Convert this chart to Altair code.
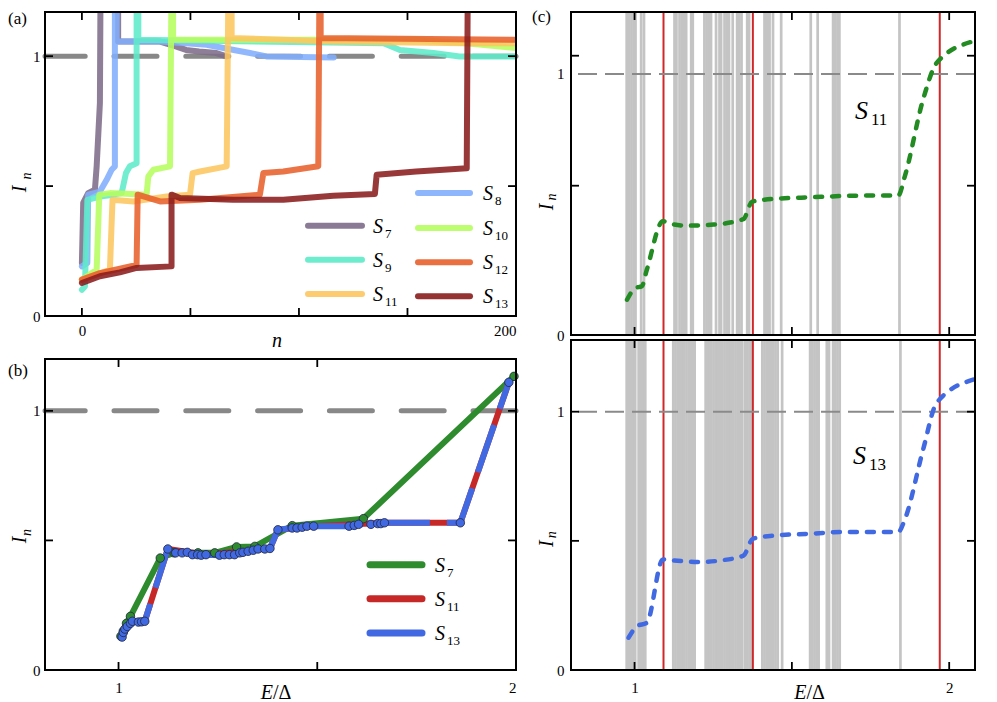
import altair as alt
import pandas as pd

FONT = "Liberation Serif"

# ---------------- panel (a): I_n versus n ----------------
S7_n = [0, 0.6, 2.9, 6.0, 6.8, 8.3, 8.8, 16.7, 16.7, 36, 43.6, 48, 54, 62, 66.7]
S7_I = [0.204, 0.435, 0.473, 0.486, 0.576, 0.82, 1.6, 1.6, 1.056, 1.056, 1.037, 1.024, 1.018, 1.012, 0.999]
S8_n = [0, 2.5, 2.9, 8.3, 11.4, 13.7, 15.2, 15.2, 16.0, 16.0, 36, 48, 57.5, 70, 77.4, 85, 116]
S8_I = [0.191, 0.204, 0.467, 0.479, 0.524, 0.563, 0.576, 1.6, 1.6, 1.056, 1.056, 1.05, 1.044, 1.024, 1.012, 0.999, 0.995]
S9_n = [0, 1.4, 2.5, 8.3, 14.4, 18.3, 20.3, 22.1, 25.2, 25.2, 26, 26, 139, 146.5, 162, 174, 200]
S9_I = [0.101, 0.114, 0.447, 0.46, 0.467, 0.473, 0.55, 0.576, 0.588, 1.6, 1.6, 1.063, 1.05, 1.024, 1.012, 0.999, 0.999]
S10_n = [0, 6.8, 8.0, 12.9, 29.8, 30.6, 32.9, 40.6, 41.6, 42, 42, 85, 154, 177, 200]
S10_I = [0.14, 0.178, 0.467, 0.473, 0.467, 0.537, 0.563, 0.576, 1.6, 1.6, 1.063, 1.063, 1.063, 1.05, 1.031]
S11_n = [0, 12.9, 14.1, 23.7, 39, 49.8, 51, 54.4, 66.7, 67.9, 69, 69, 116, 177, 200]
S11_I = [0.14, 0.178, 0.447, 0.441, 0.46, 0.467, 0.55, 0.556, 0.576, 1.6, 1.6, 1.07, 1.056, 1.05, 1.05]
S12_n = [0, 8.3, 25.2, 25.7, 36, 54.4, 82, 83.6, 92.8, 108.9, 109.7, 110, 110, 200]
S12_I = [0.14, 0.165, 0.197, 0.467, 0.441, 0.447, 0.467, 0.55, 0.556, 0.576, 1.6, 1.6, 1.07, 1.063]
S13_n = [0, 8.3, 17.5, 25.2, 41.3, 41.3, 45.2, 69.7, 92.8, 115.8, 135, 135.8, 154, 177.3, 178]
S13_I = [0.127, 0.153, 0.168, 0.185, 0.191, 0.467, 0.454, 0.447, 0.447, 0.463, 0.47, 0.544, 0.556, 0.569, 1.6]

A_names = ["7", "8", "9", "10", "11", "12", "13"]
A_colors = ["#7e6c8a", "#82aefc", "#5eebc9", "#b6fd60", "#fdc660", "#e8612c", "#8a1c1c"]
A_series = [(S7_n, S7_I), (S8_n, S8_I), (S9_n, S9_I), (S10_n, S10_I),
            (S11_n, S11_I), (S12_n, S12_I), (S13_n, S13_I)]
A_leg_col = [0, 1, 0, 1, 0, 1, 1]
A_leg_row = [1, 0, 2, 1, 3, 2, 3]
A_xticks = [0, 50, 100, 150, 200]
A_yticks = [0.5, 1]
A_xlabels = [0, 200]
A_ylabels = [0, 1]

# ---------------- panel (b): I_n versus E/Delta ----------------
B_S7_E = [1.006, 1.012, 1.020, 1.030, 1.105, 1.140, 1.200, 1.242, 1.297, 1.343, 1.437, 1.616, 1.995]
B_S7_I = [0.130, 0.150, 0.180, 0.207, 0.432, 0.452, 0.452, 0.452, 0.475, 0.477, 0.557, 0.584, 1.133]
B_S11_E = [1.009, 1.022, 1.035, 1.066, 1.124, 1.220, 1.381, 1.401, 1.491, 1.669, 1.860, 1.982]
B_S11_I = [0.127, 0.168, 0.188, 0.188, 0.467, 0.445, 0.469, 0.541, 0.555, 0.568, 0.568, 1.110]
B_S13_E = [1.009, 1.012, 1.016, 1.022, 1.030, 1.035, 1.050, 1.058, 1.066, 1.124, 1.144, 1.160,
           1.173, 1.186, 1.199, 1.208, 1.220, 1.254, 1.266, 1.279, 1.292, 1.305, 1.313, 1.326,
           1.339, 1.351, 1.368, 1.381, 1.401, 1.437, 1.449, 1.462, 1.474, 1.491, 1.580, 1.593,
           1.604, 1.635, 1.652, 1.660, 1.669, 1.860, 1.982]
B_S13_I = [0.127, 0.145, 0.158, 0.168, 0.180, 0.188, 0.185, 0.186, 0.188, 0.467, 0.452, 0.452,
           0.454, 0.445, 0.445, 0.443, 0.445, 0.443, 0.445, 0.445, 0.445, 0.452, 0.454, 0.458,
           0.462, 0.467, 0.467, 0.469, 0.541, 0.548, 0.548, 0.551, 0.555, 0.555, 0.555, 0.558,
           0.562, 0.562, 0.565, 0.565, 0.568, 0.568, 1.110]
B_names = ["7", "11", "13"]
B_colors = ["#2e8b2e", "#c62828", "#4169e1"]
B_xticks = [1, 1.5, 2]
B_yticks = [0.5, 1]
B_xlabels = [1, 2]
B_ylabels = [0, 1]

# ---------------- panel (c): spectra and smoothed I_n ----------------
C_S11_E = [0.976, 1.002, 1.023, 1.039, 1.090, 1.113, 1.166, 1.251, 1.346, 1.373, 1.410,
           1.568, 1.727, 1.838, 1.859, 1.917, 1.960, 2.076]
C_S11_I = [0.135, 0.180, 0.187, 0.250, 0.436, 0.427, 0.419, 0.423, 0.444, 0.510, 0.518,
           0.528, 0.534, 0.534, 0.608, 0.902, 1.042, 1.125]
C_S13_E = [0.981, 1.008, 1.039, 1.090, 1.124, 1.209, 1.272, 1.346, 1.376, 1.431, 1.568,
           1.653, 1.838, 1.859, 1.917, 1.960, 2.076]
C_S13_I = [0.125, 0.170, 0.183, 0.428, 0.424, 0.418, 0.424, 0.443, 0.508, 0.519, 0.528,
           0.534, 0.534, 0.583, 0.853, 1.034, 1.124]
C_S11_levels = [0.975, 0.982, 0.990, 0.997, 1.003, 1.021, 1.030, 1.127, 1.133, 1.143, 1.150,
                1.157, 1.164, 1.180, 1.185, 1.222, 1.229, 1.236, 1.243, 1.259, 1.270, 1.275,
                1.286, 1.293, 1.300, 1.312, 1.326, 1.333, 1.340, 1.358, 1.364, 1.413, 1.418,
                1.425, 1.429, 1.440, 1.466, 1.560, 1.582, 1.631, 1.638, 1.645, 1.651, 1.842]
C_S13_levels = [0.975, 0.982, 0.989, 0.996, 1.002, 1.013, 1.020, 1.027, 1.034, 1.123, 1.130,
                1.137, 1.144, 1.151, 1.158, 1.165, 1.172, 1.179, 1.186, 1.191, 1.226, 1.233,
                1.240, 1.244, 1.251, 1.258, 1.265, 1.272, 1.279, 1.286, 1.293, 1.300, 1.307,
                1.314, 1.321, 1.328, 1.335, 1.342, 1.351, 1.358, 1.365, 1.371, 1.406, 1.413,
                1.420, 1.427, 1.434, 1.441, 1.448, 1.455, 1.469, 1.558, 1.565, 1.572, 1.579,
                1.585, 1.611, 1.618, 1.631, 1.638, 1.645, 1.652, 1.845]
C_red = [1.092, 1.376, 1.970]
C_xticks = [1, 1.5, 2]
C1_yticks = [0.572, 1.07]
C2_yticks = [0.5, 1]
C_xlabels = [1, 2]
C_ylabels = [0, 1]

ONE = pd.DataFrame({"k": [0]})


def txt(s, x, y, size, italic=False, align="left", angle=0, color="black"):
    kw = dict(text=s, font=FONT, fontSize=size, align=align, baseline="middle", color=color)
    if italic:
        kw["fontStyle"] = "italic"
    if angle:
        kw["angle"] = angle
    return alt.Chart(ONE).mark_text(**kw).encode(x=alt.value(x), y=alt.value(y))


def frame(W, H):
    return alt.Chart(ONE).mark_rect(filled=False, stroke="black", strokeWidth=2).encode(
        x=alt.value(0), x2=alt.value(W), y=alt.value(0), y2=alt.value(H))


def ticks(xv, yv, XS, YS, AX, AY, W, H, L=8):
    dx = pd.DataFrame({"v": xv})
    dy = pd.DataFrame({"v": yv})
    st = dict(color="black", strokeWidth=1.8)
    X = alt.X("v:Q", scale=XS, axis=AX)
    Y = alt.Y("v:Q", scale=YS, axis=AY)
    return [
        alt.Chart(dx).mark_rule(**st).encode(x=X, y=alt.value(H), y2=alt.value(H - L)),
        alt.Chart(dx).mark_rule(**st).encode(x=X, y=alt.value(0), y2=alt.value(L)),
        alt.Chart(dy).mark_rule(**st).encode(y=Y, x=alt.value(0), x2=alt.value(L)),
        alt.Chart(dy).mark_rule(**st).encode(y=Y, x=alt.value(W), x2=alt.value(W - L)),
    ]


def ylab(xI, yI, xn, yn, size=20):
    return [txt("I", xI, yI, size, italic=True, align="center", angle=270),
            txt("n", xn, yn, 14, italic=True, align="center", angle=270)]


def eld(cx, y):
    return [txt("E", cx - 3, y, 20, italic=True, align="right"),
            txt("/Δ", cx - 3, y, 20, align="left")]


def sym(num, color, x1, x2, y, tx, width=6, opacity=1.0):
    return [
        alt.Chart(ONE).mark_rule(color=color, strokeWidth=width, strokeCap="round",
                                 opacity=opacity).encode(
            x=alt.value(x1), x2=alt.value(x2), y=alt.value(y)),
        txt("S", tx, y + 1, 20, italic=True),
        txt(num, tx + 12, y + 8, 13),
    ]


def dashed_one(YS, AY, width, dash, color="#888888", cap="round"):
    return alt.Chart(pd.DataFrame({"v": [1]})).mark_rule(
        color=color, strokeWidth=width, strokeDash=dash, strokeCap=cap).encode(
        y=alt.Y("v:Q", scale=YS, axis=AY))


def axis(vals, pad, flush=False):
    kw = dict(values=vals, title=None, labelPadding=pad, labelOverlap=False, format=".0f")
    if flush:
        kw["labelFlush"] = True
    return alt.Axis(**kw)


# ---------- panel (a) ----------
WA, HA = 471, 304
XA = alt.Scale(domain=[-17, 200], nice=False, zero=False)
YA = alt.Scale(domain=[0, 1.17], nice=False, zero=False)
AXA = axis(A_xlabels, 7, True)
AYA = axis(A_ylabels, 5)

la = [dashed_one(YA, AYA, 5, [43, 28.8])]
for (xs, ys), col in zip(A_series, A_colors):
    df = pd.DataFrame({"x": xs, "y": ys, "i": list(range(len(xs)))})
    la.append(alt.Chart(df).mark_line(color=col, strokeWidth=6, opacity=0.88, strokeCap="round",
                                      strokeJoin="round", clip=True).encode(
        x=alt.X("x:Q", scale=XA, axis=AXA), y=alt.Y("y:Q", scale=YA, axis=AYA), order="i:Q"))
la += ticks(A_xticks, A_yticks, XA, YA, AXA, AYA, WA, HA)
la.append(frame(WA, HA))
col_rows = {0: [None, 213.7, 247.7, 282], 1: [181, 216, 250.3, 284.3]}
col_x = {0: (263, 317, 328), 1: (373, 425, 438)}
for nm, col, c, r in zip(A_names, A_colors, A_leg_col, A_leg_row):
    x1, x2, tx = col_x[c]
    la += sym(nm, col, x1, x2, col_rows[c][r], tx, opacity=0.9)
la.append(txt("(a)", -37, 7, 17))
la += ylab(-25, 177, -18, 164)
la.append(txt("n", 232, HA + 25, 20, italic=True, align="center"))
panel_a = alt.layer(*la).properties(width=WA, height=HA)

# ---------- panel (b) ----------
WB, HB = 471, 311
XB = alt.Scale(domain=[0.815, 2.0], nice=False, zero=False)
YB = alt.Scale(domain=[0, 1.2], nice=False, zero=False)
AXB = axis(B_xlabels, 10, True)
AYB = axis(B_ylabels, 5)


def bline(E, I, color, dash=None):
    df = pd.DataFrame({"x": E, "y": I, "i": list(range(len(E)))})
    kw = dict(color=color, strokeWidth=6, strokeJoin="round")
    if dash:
        kw["strokeDash"] = dash
    return alt.Chart(df).mark_line(**kw).encode(
        x=alt.X("x:Q", scale=XB, axis=AXB), y=alt.Y("y:Q", scale=YB, axis=AYB), order="i:Q")


def bpts(E, I, color):
    df = pd.DataFrame({"x": E, "y": I})
    return alt.Chart(df).mark_circle(size=72, color=color, opacity=1, stroke="#1f2440",
                                     strokeWidth=0.8).encode(
        x=alt.X("x:Q", scale=XB, axis=AXB), y=alt.Y("y:Q", scale=YB, axis=AYB))


lb = [dashed_one(YB, AYB, 5, [43, 28.8]),
      bline(B_S7_E, B_S7_I, B_colors[0]),
      bline(B_S11_E, B_S11_I, B_colors[1]),
      bline(B_S13_E, B_S13_I, B_colors[2], dash=[50, 17]),
      bpts(B_S7_E, B_S7_I, B_colors[0]),
      bpts(B_S13_E, B_S13_I, B_colors[2])]
lb += ticks(B_xticks, B_yticks, XB, YB, AXB, AYB, WB, HB)
lb.append(frame(WB, HB))
for nm, col, yy in zip(B_names, B_colors, [205.7, 239.7, 274]):
    lb += sym(nm, col, 325, 377, yy, 390, width=7)
lb.append(txt("(b)", -37, 11.5, 17))
lb += ylab(-25, 181, -18, 173.5)
lb += eld(231, HB + 23)
panel_b = alt.layer(*lb).properties(width=WB, height=HB)

# ---------- panel (c) ----------
WC = 404
XC = alt.Scale(domain=[0.798, 2.082], nice=False, zero=False)


def cpanel(H, ymax, levels, E, I, color, yt, sub, sx, sy, show_x, extra):
    YS = alt.Scale(domain=[0, ymax], nice=False, zero=False)
    AX = axis(C_xlabels, 10) if show_x else None
    AY = axis(C_ylabels, 7)
    X = alt.X("v:Q", scale=XC, axis=AX)
    L = [alt.Chart(pd.DataFrame({"v": levels})).mark_rule(color="#c4c4c4", strokeWidth=2.7).encode(x=X),
         alt.Chart(pd.DataFrame({"v": C_red})).mark_rule(color="#d0282a", strokeWidth=2).encode(x=X),
         dashed_one(YS, AY, 2, [19, 8], color="#8a8a8a", cap="butt")]
    df = pd.DataFrame({"x": E, "y": I, "i": list(range(len(E)))})
    L.append(alt.Chart(df).mark_line(color=color, strokeWidth=4.5, strokeDash=[7, 10],
                                     strokeCap="round", interpolate="monotone", clip=True).encode(
        x=alt.X("x:Q", scale=XC, axis=AX), y=alt.Y("y:Q", scale=YS, axis=AY), order="i:Q"))
    L += ticks(C_xticks, yt, XC, YS, AX, AY, WC, H)
    L.append(frame(WC, H))
    L.append(txt("S", sx, sy, 26, italic=True))
    L.append(txt(sub, sx + 16, sy + 9, 17))
    L += extra
    return alt.layer(*L).properties(width=WC, height=H)


HC1, HC2 = 323, 330
panel_c1 = cpanel(HC1, 1.2375, C_S11_levels, C_S11_E, C_S11_I, "#228b22", C1_yticks, "11",
                  284, 99, False, [txt("(c)", -39, 5, 17)] + ylab(-24, 195, -19, 185))
panel_c2 = cpanel(HC2, 1.2776, C_S13_levels, C_S13_E, C_S13_I, "#4169e1", C2_yticks, "13",
                  282, 115.7, True, ylab(-24, 203.7, -19, 194.7) + eld(238.5, HC2 + 23))

left = alt.vconcat(panel_a, panel_b, spacing=43, bounds="flush")
right = alt.vconcat(panel_c1, panel_c2, spacing=5, bounds="flush")
chart = alt.hconcat(left, right, spacing=12).properties(padding=0).configure_view(
    strokeWidth=0).configure_axis(grid=False, ticks=False, domain=False, labelFont=FONT,
                                  labelFontSize=15, labelColor="black")

chart.save("out.html", embed_options={"renderer": "svg", "actions": False})
